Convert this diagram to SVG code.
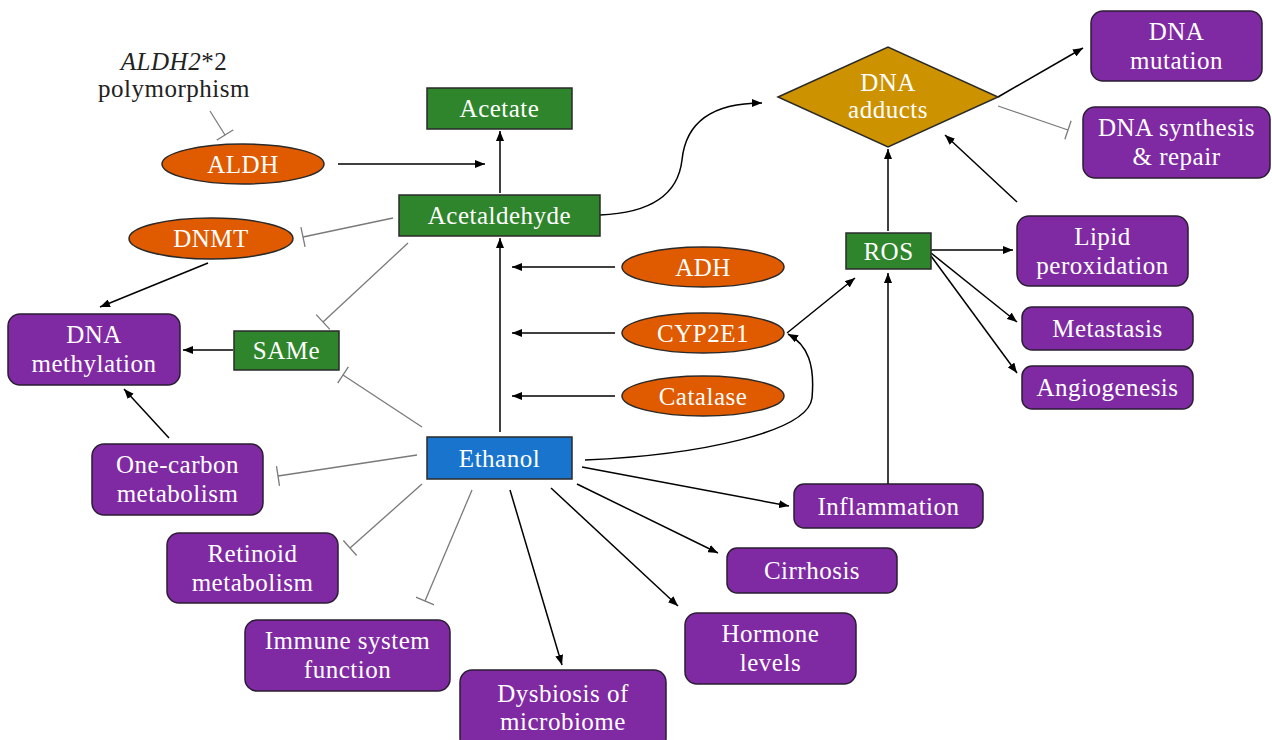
<svg xmlns="http://www.w3.org/2000/svg" width="1272" height="740" viewBox="0 0 1272 740">
<defs>
<marker id="arr" viewBox="0 0 10 8" refX="10" refY="4" markerWidth="10" markerHeight="8" markerUnits="userSpaceOnUse" orient="auto"><path d="M0,0 L10,4 L0,8 z" fill="#000"/></marker>
<marker id="tee" viewBox="0 0 4 20" refX="2" refY="10" markerWidth="4" markerHeight="20" markerUnits="userSpaceOnUse" orient="auto"><path d="M2,0 L2,20" stroke="#7a7a7a" stroke-width="1.3"/></marker>
<style>
text{font-family:"Liberation Serif","Times New Roman",serif;font-size:25px;letter-spacing:0.5px;text-anchor:middle;fill:#fff}
.lbl{fill:#222}
.p{fill:#7F2AA3;stroke:#2b1d33;stroke-width:1.5}
.g{fill:#2F852B;stroke:#2a2a2a;stroke-width:1.5}
.b{fill:#1874CD;stroke:#2a2a2a;stroke-width:1.5}
.o{fill:#E05A00;stroke:#2a2a2a;stroke-width:1.5}
.y{fill:#CC9200;stroke:#2a2a2a;stroke-width:1.5}
.a{fill:none;stroke:#000;stroke-width:1.5;marker-end:url(#arr)}
.i{fill:none;stroke:#7a7a7a;stroke-width:1.3;marker-end:url(#tee)}
</style>
</defs>
<rect width="1272" height="740" fill="#fff"/>
<g id="connectors">
<path class="a" d="M338,164 L485,164"/>
<path class="a" d="M500,193 L500,131"/>
<path class="a" d="M500,432 L500,238"/>
<path class="a" d="M615,267 L512,267"/>
<path class="a" d="M615,333 L512,333"/>
<path class="a" d="M615,396 L512,396"/>
<path class="a" d="M208,263 L100,307"/>
<path class="a" d="M233,350 L183,350"/>
<path class="a" d="M169,438 L124,389"/>
<path class="a" d="M600,215 C650,213 678,195 682,160 C686,120 715,103 762,103"/>
<path class="a" d="M998,97 L1083,48"/>
<path class="a" d="M888,231 L888,149"/>
<path class="a" d="M1017,202 L945,135"/>
<path class="a" d="M931,250 L1013,250"/>
<path class="a" d="M931,253 L1017,322"/>
<path class="a" d="M931,256 L1017,373"/>
<path class="a" d="M787,333 L855,278"/>
<path class="a" d="M585,460 C700,455 808,432 812,398 C815,365 808,345 788,334"/>
<path class="a" d="M888,484 L888,273"/>
<path class="a" d="M582,467 L789,506"/>
<path class="a" d="M577,484 L718,553"/>
<path class="a" d="M551,488 L678,606"/>
<path class="a" d="M510,490 L562,665"/>
<path class="i" d="M210,111 L225,135"/>
<path class="i" d="M393,218 L303,237"/>
<path class="i" d="M408,243 L323,322"/>
<path class="i" d="M422,427 L343,375"/>
<path class="i" d="M417,455 L278,476"/>
<path class="i" d="M422,484 L350,548"/>
<path class="i" d="M472,490 L425,601"/>
<path class="i" d="M998,106 L1068,130"/>
</g>
<g id="aldh2-label"><text class="lbl" x="174" y="70"><tspan font-style="italic">ALDH2</tspan>*2</text><text class="lbl" x="174" y="97">polymorphism</text></g>
<g id="acetate"><rect class="g" x="427" y="88" width="145" height="41"/><text x="499.5" y="117">Acetate</text></g>
<g id="aldh"><ellipse class="o" cx="243" cy="164" rx="81" ry="20"/><text x="243" y="172.5">ALDH</text></g>
<g id="acetaldehyde"><rect class="g" x="399" y="195" width="201" height="41"/><text x="499.5" y="224">Acetaldehyde</text></g>
<g id="dnmt"><ellipse class="o" cx="211" cy="238.5" rx="82" ry="20.5"/><text x="211" y="247">DNMT</text></g>
<g id="adh"><ellipse class="o" cx="703" cy="267" rx="81" ry="20"/><text x="703" y="275.5">ADH</text></g>
<g id="cyp2e1"><ellipse class="o" cx="703" cy="333" rx="81" ry="20"/><text x="703" y="341.5">CYP2E1</text></g>
<g id="catalase"><ellipse class="o" cx="703" cy="396" rx="81" ry="20"/><text x="703" y="404.5">Catalase</text></g>
<g id="dna-methylation"><rect class="p" x="8" y="314" width="172" height="71" rx="12"/><text x="94" y="343">DNA</text><text x="94" y="372">methylation</text></g>
<g id="same"><rect class="g" x="234" y="331" width="105" height="39"/><text x="286.5" y="359">SAMe</text></g>
<g id="ethanol"><rect class="b" x="427" y="437" width="145" height="42"/><text x="499.5" y="466.5">Ethanol</text></g>
<g id="one-carbon"><rect class="p" x="92" y="444" width="171" height="71" rx="12"/><text x="177.5" y="473">One-carbon</text><text x="177.5" y="502">metabolism</text></g>
<g id="retinoid"><rect class="p" x="167" y="533" width="171" height="70" rx="12"/><text x="252.5" y="561.5">Retinoid</text><text x="252.5" y="590.5">metabolism</text></g>
<g id="immune"><rect class="p" x="245" y="620" width="205" height="71" rx="12"/><text x="347.5" y="649">Immune system</text><text x="347.5" y="678">function</text></g>
<g id="dysbiosis"><rect class="p" x="460" y="670" width="206" height="80" rx="12"/><text x="563" y="702">Dysbiosis of</text><text x="563" y="730">microbiome</text></g>
<g id="hormone"><rect class="p" x="685" y="613" width="171" height="71" rx="12"/><text x="770.5" y="642">Hormone</text><text x="770.5" y="671">levels</text></g>
<g id="cirrhosis"><rect class="p" x="727" y="548" width="170" height="45" rx="10"/><text x="812" y="579">Cirrhosis</text></g>
<g id="inflammation"><rect class="p" x="794" y="484" width="189" height="44" rx="10"/><text x="888.5" y="514.5">Inflammation</text></g>
<g id="ros"><rect class="g" x="846" y="233" width="85" height="36"/><text x="888.5" y="259.5">ROS</text></g>
<g id="dna-adducts"><path class="y" d="M778,97 L888,47 L998,97 L888,147 z"/><text x="888" y="91">DNA</text><text x="888" y="118">adducts</text></g>
<g id="dna-mutation"><rect class="p" x="1091" y="11" width="171" height="70" rx="12"/><text x="1176.5" y="40">DNA</text><text x="1176.5" y="69">mutation</text></g>
<g id="dna-synthesis"><rect class="p" x="1083" y="107" width="187" height="71" rx="12"/><text x="1176.5" y="136">DNA synthesis</text><text x="1176.5" y="165">&amp; repair</text></g>
<g id="lipid"><rect class="p" x="1017" y="216" width="171" height="70" rx="12"/><text x="1102.5" y="245">Lipid</text><text x="1102.5" y="274">peroxidation</text></g>
<g id="metastasis"><rect class="p" x="1022" y="307" width="171" height="43" rx="10"/><text x="1107.5" y="337">Metastasis</text></g>
<g id="angiogenesis"><rect class="p" x="1022" y="366" width="171" height="43" rx="10"/><text x="1107.5" y="396">Angiogenesis</text></g>
</svg>
